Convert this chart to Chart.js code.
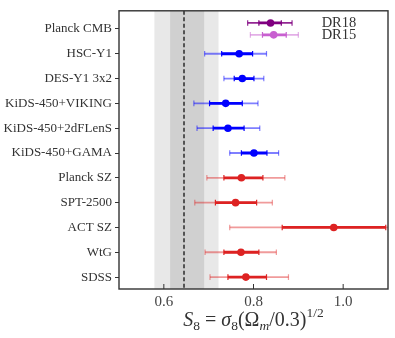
<!DOCTYPE html>
<html lang="en">
<head>
    <meta charset="UTF-8">
    <title>S8 constraints</title>
    <script src="https://cdn.jsdelivr.net/npm/chart.js"></script>
    <style>
        html, body {
            margin: 0;
            padding: 0;
            background: #ffffff;
        }

        .chart-box {
            width: 395px;
            height: 338px;
        }
    </style>
</head>
<body>
    <div class="chart-box">
        <canvas id="s8Chart"></canvas>
    </div>

    <script>
        // rows of the y axis, top to bottom
        const rowLabels = ["Planck CMB", "HSC-Y1", "DES-Y1 3x2", "KiDS-450+VIKING", "KiDS-450+2dFLenS",
            "KiDS-450+GAMA", "Planck SZ", "SPT-2500", "ACT SZ", "WtG", "SDSS"];

        // one entry per measurement (Planck CMB has two releases on the same row)
        const pointRow = [0, 0, 1, 2, 3, 4, 5, 6, 7, 8, 9, 10];
        const pointTag = ["DR18", "DR15", "", "", "", "", "", "", "", "", "", ""];
        const probe = ["cmb18", "cmb15", "lens", "lens", "lens", "lens", "lens", "sz", "sz", "sz", "sz", "sz"];
        const s8Value = [0.838, 0.845, 0.768, 0.775, 0.738, 0.743, 0.801, 0.773, 0.760, 0.979, 0.772, 0.783];
        const lo68 = [0.812, 0.820, 0.729, 0.757, 0.702, 0.710, 0.773, 0.734, 0.715, 0.864, 0.734, 0.743];
        const hi68 = [0.862, 0.873, 0.798, 0.801, 0.775, 0.779, 0.830, 0.821, 0.807, 1.095, 0.812, 0.829];
        const lo95 = [0.787, 0.793, 0.691, 0.734, 0.667, 0.674, 0.747, 0.696, 0.669, 0.747, 0.692, 0.703];
        const hi95 = [0.886, 0.900, 0.829, 0.823, 0.810, 0.814, 0.856, 0.870, 0.842, 1.210, 0.851, 0.878];

        // reference value and its bands
        const refS8 = 0.645;
        const refBand68 = [0.614, 0.690];
        const refBand95 = [0.579, 0.722];

        const xTicks = [0.6, 0.8, 1.0];

        const probeColors = {
            cmb18: { dark: "#800080", light: "rgba(128,0,128,0.85)" },
            cmb15: { dark: "#c860d0", light: "rgba(200,96,208,0.5)" },
            lens: { dark: "#0000ff", light: "rgba(0,0,255,0.5)" },
            sz: { dark: "#dd2222", light: "rgba(221,34,34,0.45)" }
        };

        const serif = "'Liberation Serif', 'DejaVu Serif', serif";
        const tagOffset = { DR18: -0.24, DR15: 0.24 };

        function rowPos(i) {
            return pointRow[i] + (tagOffset[pointTag[i]] || 0);
        }

        function drawBar(ctx, x, yPix, from, to, color, width, cap) {
            const a = x.getPixelForValue(from);
            const b = x.getPixelForValue(to);
            ctx.strokeStyle = color;
            ctx.lineWidth = width;
            ctx.beginPath();
            ctx.moveTo(a, yPix);
            ctx.lineTo(b, yPix);
            ctx.stroke();
            ctx.lineWidth = 1.2;
            ctx.beginPath();
            ctx.moveTo(a, yPix - cap);
            ctx.lineTo(a, yPix + cap);
            ctx.moveTo(b, yPix - cap);
            ctx.lineTo(b, yPix + cap);
            ctx.stroke();
        }

        const s8Plugin = {
            id: "s8Extras",
            beforeDatasetsDraw(chart) {
                const { ctx, chartArea: a, scales: { x, y } } = chart;
                ctx.save();
                ctx.beginPath();
                ctx.rect(a.left, a.top, a.width, a.height);
                ctx.clip();

                // grey bands
                ctx.fillStyle = "#e8e8e8";
                let l = x.getPixelForValue(refBand95[0]);
                ctx.fillRect(l, a.top, x.getPixelForValue(refBand95[1]) - l, a.height);
                ctx.fillStyle = "#d0d0d0";
                l = x.getPixelForValue(refBand68[0]);
                ctx.fillRect(l, a.top, x.getPixelForValue(refBand68[1]) - l, a.height);

                // dashed reference line
                const rx = x.getPixelForValue(refS8);
                ctx.strokeStyle = "#111";
                ctx.lineWidth = 1.3;
                ctx.setLineDash([4, 2.5]);
                ctx.beginPath();
                ctx.moveTo(rx, a.top);
                ctx.lineTo(rx, a.bottom);
                ctx.stroke();
                ctx.setLineDash([]);

                // error bars
                s8Value.forEach((v, i) => {
                    const c = probeColors[probe[i]];
                    const yPix = y.getPixelForValue(rowPos(i));
                    drawBar(ctx, x, yPix, lo95[i], hi95[i], c.light, 1.8, 2.8);
                    drawBar(ctx, x, yPix, lo68[i], hi68[i], c.dark, 2.8, 2.8);
                });
                ctx.restore();
            },
            afterDraw(chart) {
                const { ctx, chartArea: a, scales: { x, y } } = chart;
                ctx.save();

                // box
                ctx.strokeStyle = "#333";
                ctx.lineWidth = 1.4;
                ctx.strokeRect(a.left, a.top, a.width, a.height);

                // inward x ticks
                ctx.lineWidth = 1;
                ctx.beginPath();
                xTicks.forEach(t => {
                    const px = x.getPixelForValue(t);
                    ctx.moveTo(px, a.bottom);
                    ctx.lineTo(px, a.bottom - 5);
                });
                ctx.stroke();

                // release labels
                ctx.fillStyle = "#333";
                ctx.font = "14.5px " + serif;
                ctx.textBaseline = "middle";
                ctx.textAlign = "left";
                pointTag.forEach((tag, i) => {
                    if (!tag) return;
                    ctx.fillText(tag, x.getPixelForValue(0.952), y.getPixelForValue(rowPos(i)));
                });

                // axis title: S_8 = sigma_8(Omega_m/0.3)^{1/2}
                const big = 20, small = 13.5;
                const parts = [
                    { t: "S", s: big, it: true, dy: 0 },
                    { t: "8", s: small, it: false, dy: 4 },
                    { t: " = ", s: big, it: false, dy: 0 },
                    { t: "σ", s: big, it: true, dy: 0 },
                    { t: "8", s: small, it: false, dy: 4 },
                    { t: "(Ω", s: big, it: false, dy: 0 },
                    { t: "m", s: small, it: true, dy: 4 },
                    { t: "/0.3)", s: big, it: false, dy: 0 },
                    { t: "1/2", s: small, it: false, dy: -9 }
                ];
                const fontOf = p => (p.it ? "italic " : "") + p.s + "px " + serif;
                let total = 0;
                parts.forEach(p => { ctx.font = fontOf(p); total += ctx.measureText(p.t).width; });
                let cx = (a.left + a.right) / 2 - total / 2;
                const base = 326;
                ctx.textBaseline = "alphabetic";
                ctx.fillStyle = "#333";
                parts.forEach(p => {
                    ctx.font = fontOf(p);
                    ctx.fillText(p.t, cx, base + p.dy);
                    cx += ctx.measureText(p.t).width;
                });
                ctx.restore();
            }
        };

        new Chart(document.getElementById("s8Chart"), {
            type: "scatter",
            data: {
                datasets: [{
                    data: s8Value.map((v, i) => ({ x: v, y: rowPos(i) })),
                    pointRadius: 3.8,
                    pointHoverRadius: 3.8,
                    pointBorderWidth: 0,
                    pointBackgroundColor: probe.map(p => probeColors[p].dark)
                }]
            },
            options: {
                responsive: true,
                maintainAspectRatio: false,
                animation: false,
                layout: { padding: { top: 5, right: 7, left: 0, bottom: 0 } },
                plugins: {
                    legend: { display: false },
                    tooltip: { enabled: false }
                },
                scales: {
                    x: {
                        type: "linear",
                        min: 0.5,
                        max: 1.1,
                        afterBuildTicks: axis => { axis.ticks = xTicks.map(v => ({ value: v })); },
                        afterFit: axis => { axis.height = 49; },
                        ticks: {
                            callback: v => v.toFixed(1),
                            font: { family: serif, size: 15 },
                            color: "#444",
                            padding: 4,
                            maxRotation: 0
                        },
                        grid: { drawOnChartArea: false, drawTicks: false },
                        border: { display: false }
                    },
                    y: {
                        type: "linear",
                        reverse: true,
                        min: -0.73,
                        max: 10.48,
                        afterBuildTicks: axis => { axis.ticks = rowLabels.map((n, i) => ({ value: i })); },
                        afterFit: axis => { axis.width = 119; },
                        ticks: {
                            callback: v => rowLabels[v],
                            font: { family: serif, size: 13 },
                            color: "#333",
                            padding: 3
                        },
                        grid: { drawOnChartArea: false, tickLength: 4, color: "#333", lineWidth: 1 },
                        border: { display: false }
                    }
                }
            },
            plugins: [s8Plugin]
        });
    </script>
</body>
</html>
